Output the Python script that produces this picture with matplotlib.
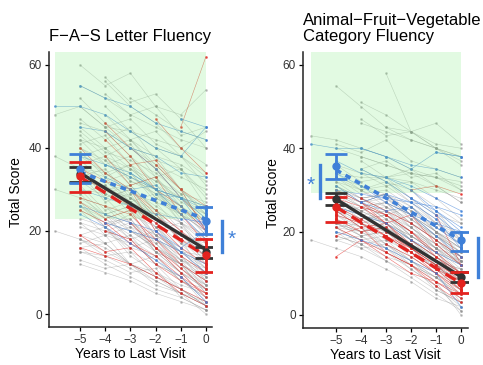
import numpy as np
import matplotlib.pyplot as plt
from matplotlib.patches import Rectangle

plt.rcParams['font.family'] = ['Liberation Sans', 'DejaVu Sans']

# individual trajectories: scores per yearly visit, last value is at year 0
fas_gray = [
    [30, 28, 24, 20, 17, 12, 8], [40, 36, 33, 30, 26, 22], [22, 20, 18, 14, 10, 6],
    [18, 15, 12, 10, 6, 2], [45, 40, 38, 30, 24], [55, 52, 48, 45, 42, 40],
    [28, 26, 20, 18, 14, 10], [35, 30, 22, 15], [60, 55, 58, 50, 48, 54],
    [50, 44, 42, 40, 36], [33, 30, 31, 25, 22, 19], [25, 20, 12],
    [12, 10, 8, 5, 3, 1], [26, 22, 16, 12, 5], [38, 34, 29, 27, 20, 16],
    [42, 36, 30, 24], [46, 44, 40, 36, 33, 30], [20, 18, 16, 12, 9, 5, 3],
    [32, 28, 22, 18, 13, 9], [20, 16, 14, 8, 4], [36, 38, 32, 30, 28, 24],
    [52, 48, 44, 42], [25, 22, 20, 16, 12, 7], [30, 24, 18],
    [42, 40, 35, 32, 28, 26], [32, 28, 24, 19, 14], [15, 14, 11, 8, 5, 0],
    [48, 50, 45, 44, 40, 38, 34], [20, 16, 10, 6], [30, 29, 26, 21, 16, 11],
    [18, 9], [44, 39, 37, 34, 29, 21], [38, 35, 30, 25, 21],
    [21, 19, 17, 13, 8, 4], [40, 35, 28], [52, 46, 42, 38, 36, 32],
    [24, 21, 18, 13, 10], [35, 33, 27, 24, 18, 13], [28, 25, 18, 12],
    [27, 24, 22, 19, 15, 14], [38, 35, 34, 30, 26, 22, 18], [56, 50, 46, 40, 44],
    [19, 17, 12, 9, 6, 2], [22, 14, 8], [34, 30, 28, 23, 19, 17],
    [33, 29, 26, 20], [23, 21, 15, 12, 9, 3], [30, 20],
    [29, 26, 22, 17, 11], [40, 37, 34, 28, 24, 20], [16, 12, 9, 6, 4, 1],
    [26, 23, 19, 15, 10, 4], [31, 27, 21, 14, 7], [24, 18, 12, 6, 2],
    [34, 27, 29, 20, 22, 13], [43, 38, 41, 33, 27, 24], [17, 19, 12, 14, 8, 6],
    [21, 16, 18, 11, 7], [37, 31, 33, 26, 19], [29, 31, 24, 21, 15, 12],
    [47, 42, 45, 37, 35, 29], [13, 11, 12, 7, 5, 2], [39, 33, 36, 30, 23, 18],
    [24, 26, 19, 15, 11], [57, 51, 53, 47, 40], [31, 25, 27, 19, 16, 8],
    [26, 22, 23, 15, 12, 9], [44, 38, 33, 35, 26], [19, 21, 14, 10, 7, 5],
    [36, 29, 31, 25, 17, 14], [23, 18, 20, 13, 6], [41, 43, 36, 32, 29, 27],
    [27, 21, 24, 17, 11, 6], [33, 35, 28, 23, 18, 15], [50, 45, 47, 41, 38, 31],
    [15, 13, 10, 11, 4, 1], [28, 30, 23, 19, 14], [37, 32, 34, 27, 24, 20],
    [22, 17, 19, 12, 9, 2], [45, 40, 42, 35, 30, 25], [32, 27, 29, 22, 17],
    [18, 14, 15, 9, 6, 3], [39, 34, 36, 28, 25, 19], [25, 19, 21, 15, 10, 7],
    [53, 48, 50, 43, 45], [30, 24, 26, 18, 15, 10], [20, 22, 15, 12, 8],
    [42, 36, 38, 31, 28, 23], [35, 28, 30, 23, 21, 16], [16, 17, 12, 8, 5, 2],
    [48, 42, 44, 38, 33], [26, 21, 23, 16, 13, 11], [38, 40, 32, 29, 24, 21],
    [29, 23, 25, 19, 12, 5],
]
fas_red = [
    [35, 32, 30, 25, 20, 15], [46, 40, 35, 28, 22], [16, 14, 12, 9, 6, 3],
    [30, 20, 14, 10], [28, 26, 24, 18, 12, 8], [36, 30, 20],
    [44, 38, 30, 26, 20], [33, 30, 26, 22, 16, 12], [45, 62],
    [22, 16, 10, 4], [40, 34, 30, 24, 18, 14], [20, 18, 12, 8, 5],
    [47, 40, 34], [25, 22, 17, 14, 9, 5], [38, 31, 33, 24, 17],
    [27, 23, 25, 16, 11, 6], [42, 36, 37, 30, 26], [19, 15, 16, 10, 5, 2],
]
fas_blue = [
    [50, 50, 48, 44, 40, 38, 45], [55, 52, 50, 46, 44, 42], [36, 34, 30, 28, 25],
    [38, 36, 33, 30, 28, 26], [40, 35, 28, 20], [30, 28, 26, 24, 23, 22],
    [20, 15, 10], [22, 20, 18, 15, 12], [45, 44, 40, 38, 34, 33],
    [47, 45], [34, 30, 24, 18], [26, 24, 22, 20, 16, 20], [29, 28, 23],
    [24, 21, 17, 13, 9, 3], [33, 30, 31, 26, 21],
]

afv_gray = [
    [28, 25, 22, 18, 14, 10], [24, 22, 18, 15, 11, 8], [46, 44, 42, 40, 38],
    [20, 18, 15, 12, 9, 5], [58, 44, 40, 38], [32, 30, 27, 24, 20, 16],
    [30, 26, 22, 18, 13], [26, 22, 20, 16, 12, 6], [18, 16, 14, 11, 8, 4, 2],
    [36, 34, 33, 32, 30, 28], [51, 48, 44, 46, 41], [22, 20, 17, 13, 10, 7],
    [28, 24, 18, 12], [30, 28, 25, 22, 18, 13], [22, 16, 10],
    [34, 33, 33, 34, 31, 27], [26, 22, 19, 15, 9], [25, 23, 20, 17, 13, 11],
    [40, 38, 36, 34, 33, 30], [24, 20, 15, 9], [29, 26, 24, 21, 16, 12],
    [35, 32, 30, 26, 22], [18, 16, 13, 10, 6, 3], [30, 24, 18],
    [27, 25, 22, 19, 16, 14], [22, 20, 16, 12, 7], [33, 31, 28, 25, 21, 18],
    [45, 42, 40, 36], [21, 20, 16, 13, 8, 4], [20, 12],
    [31, 28, 26, 23, 19, 15], [28, 25, 21, 17, 12], [24, 21, 19, 15, 11, 9],
    [43, 42, 40, 38, 35, 33, 31], [32, 28, 22, 17], [26, 24, 21, 18, 14, 10],
    [38, 36, 34, 33, 32], [23, 21, 17, 14, 10, 6], [26, 20, 14],
    [30, 27, 23, 20, 16, 11], [24, 22, 18, 14, 10], [55, 50, 45, 44, 41, 40],
    [27, 24, 19, 13], [19, 17, 14, 12, 8, 0], [25, 18],
    [31, 29, 26, 22, 19], [29, 27, 24, 20, 17, 14], [22, 19, 16, 11, 7, 1],
    [25, 21, 16, 12, 6, 3], [27, 23, 18, 12, 8], [21, 17, 13, 9, 5, 1],
    [26, 23, 24, 19, 15, 12], [31, 27, 29, 23, 18, 14], [22, 19, 20, 15, 12, 8],
    [28, 24, 26, 20, 15], [34, 30, 32, 27, 23, 19], [19, 17, 18, 13, 9, 6],
    [25, 21, 22, 17, 12, 10], [30, 26, 27, 22, 19, 15], [23, 20, 21, 16, 11, 7],
    [27, 29, 24, 20, 16], [33, 29, 30, 26, 21, 17], [21, 18, 19, 14, 10, 3],
    [29, 25, 27, 21, 16, 13], [24, 26, 21, 17, 14, 9], [36, 32, 33, 28, 24, 22],
    [20, 16, 17, 12, 9, 4], [32, 28, 29, 24, 20, 16], [26, 22, 24, 18, 13, 11],
    [28, 25, 26, 21, 17, 12], [23, 24, 19, 15, 10], [37, 33, 35, 31, 27],
    [25, 22, 23, 18, 14, 8], [31, 28, 29, 25, 20, 17], [18, 19, 15, 11, 7, 2],
    [27, 23, 25, 19, 15, 13], [29, 26, 27, 22, 18, 14], [22, 20, 21, 17, 13, 9],
    [34, 31, 32, 28, 23], [24, 20, 22, 16, 11, 6], [30, 27, 28, 23, 19, 16],
    [21, 22, 17, 13, 9, 5], [26, 24, 25, 20, 16, 12], [33, 30, 31, 27, 22, 18],
    [28, 29, 24, 19, 15], [23, 19, 20, 15, 12, 7], [47, 43, 44, 40, 37],
    [41, 39, 42, 37, 35, 33], [35, 37, 33, 34, 30],
]
afv_red = [
    [24, 22, 19, 16, 12, 9], [28, 25, 22, 18, 14], [14, 18, 14, 10, 8, 5],
    [20, 16, 12, 7], [26, 23, 19, 15, 11, 8], [30, 31, 29],
    [22, 19, 15, 11, 6], [30, 27, 24, 20, 15, 10], [17, 14, 10, 5],
    [21, 18, 15, 12, 8, 4], [24, 12], [26, 24, 20, 14, 10],
    [18, 14, 9], [28, 26, 22, 17, 13, 9], [23, 20, 21, 15, 10, 6],
    [27, 22, 24, 17, 12], [19, 21, 15, 12, 7, 3], [25, 21, 22, 16, 13, 8],
]
afv_blue = [
    [41, 40, 40, 38, 36, 35, 33], [37, 34, 33, 31, 28, 25], [40, 38, 35, 39, 38],
    [30, 29, 28, 27, 26, 24], [33, 30, 25, 20], [26, 24, 22, 18, 15, 12],
    [28, 24, 19], [35, 32, 28, 25, 21], [20, 18, 16, 13, 10, 2],
    [39, 38], [29, 27, 23, 16], [34, 31, 27, 24, 22, 20],
    [31, 27, 29, 24, 19, 14], [27, 25, 26, 21, 17],
]

# group summaries at years -5 and 0: mean, lower, upper
years = [-5, 0]
fas_all = [[33.7, 31.9, 35.5], [15.0, 13.5, 16.2]]
fas_dem = [[33.3, 29.3, 36.7], [14.2, 10.1, 18.1]]
fas_nodem = [[35.0, 31.6, 38.5], [22.5, 19.3, 25.8]]
afv_all = [[27.8, 26.4, 29.2], [9.2, 8.0, 10.4]]
afv_dem = [[25.9, 22.4, 28.4], [7.6, 5.2, 10.3]]
afv_nodem = [[35.8, 32.6, 38.6], [18.0, 15.4, 19.8]]

# fitted lines (value at -5, value at 0)
fas_fit = {'all': [34.0, 15.5], 'dem': [33.0, 14.0], 'nodem': [34.2, 22.8]}
afv_fit = {'all': [27.8, 9.2], 'dem': [25.9, 7.6], 'nodem': [34.8, 18.0]}

GRAY = '#8c8c8c'
RED = '#e3231f'
BLUE = '#3f80d8'
DARK = '#333333'


def draw_panel(ax, gray, red, blue, fits, summ, green_low, xlim):
    for trajs, col, a in [(gray, GRAY, 0.45), (red, RED, 0.65), (blue, BLUE, 0.7)]:
        for ys in trajs:
            xs = np.arange(-len(ys) + 1, 1)
            ax.plot(xs, ys, color=col, lw=0.4, alpha=a, marker='o', ms=1.0, zorder=1)
    ax.add_patch(Rectangle((-6, green_low), 6, 63 - green_low,
                           facecolor=(0.55, 0.93, 0.55), alpha=0.25, lw=0, zorder=2))
    ax.plot(years, fits['all'], color=DARK, lw=2.4, zorder=4)
    ax.plot(years, fits['dem'], color=RED, lw=2.4, ls=(0, (3.5, 2)), zorder=4)
    ax.plot(years, fits['nodem'], color=BLUE, lw=2.6, ls=(0, (1.6, 1.4)), zorder=4)
    for key, col in [('all', DARK), ('nodem', BLUE), ('dem', RED)]:
        s = np.array(summ[key])
        ax.errorbar(years, s[:, 0], yerr=[s[:, 0] - s[:, 1], s[:, 2] - s[:, 0]],
                    fmt='o', color=col, ms=5, lw=2, capsize=8, capthick=2, zorder=5)
    ax.set_xlim(*xlim)
    ax.set_ylim(-3.12, 63.1)
    ax.set_xticks([-5, -4, -3, -2, -1, 0])
    ax.set_yticks([0, 20, 40, 60])
    for sp in ['top', 'right']:
        ax.spines[sp].set_visible(False)
    for sp in ['left', 'bottom']:
        ax.spines[sp].set_linewidth(1.1)
        ax.spines[sp].set_color('#222222')
    ax.tick_params(length=3, width=0.9, labelsize=8.5, labelcolor='#333333', pad=2)
    ax.set_xlabel('Years to Last Visit', fontsize=10, labelpad=1)
    ax.set_ylabel('Total Score', fontsize=10)


fig = plt.figure(figsize=(4.83, 3.65), dpi=100)
ax1 = fig.add_axes([49 / 483, 38 / 365, 163 / 483, 275 / 365])
ax2 = fig.add_axes([303 / 483, 37 / 365, 165 / 483, 276 / 365])

draw_panel(ax1, fas_gray, fas_red, fas_blue, fas_fit,
           {'all': fas_all, 'dem': fas_dem, 'nodem': fas_nodem}, 22.8, (-6.23, 0.24))
draw_panel(ax2, afv_gray, afv_red, afv_blue, afv_fit,
           {'all': afv_all, 'dem': afv_dem, 'nodem': afv_nodem}, 29.3, (-6.32, 0.28))
ax1.yaxis.set_label_coords(-0.16, 0.49)
ax2.yaxis.set_label_coords(-0.14, 0.49)

ax1.set_title('F\u2212A\u2212S Letter Fluency', loc='left', fontsize=12, pad=8)
ax2.set_title('Animal\u2212Fruit\u2212Vegetable\nCategory Fluency', loc='left',
              fontsize=12, pad=8, linespacing=1.1)

# significance markers
ax1.plot([0.63, 0.63], [14.9, 22.4], color=BLUE, lw=2.4, clip_on=False)
ax1.text(1.03, 18.0, '*', color=BLUE, fontsize=15, ha='center', va='center', clip_on=False)
ax2.plot([-5.64, -5.64], [28.0, 36.0], color=BLUE, lw=2.4, clip_on=False)
ax2.text(-6.02, 31.0, '*', color=BLUE, fontsize=15, ha='center', va='center', clip_on=False)
ax2.plot([0.68, 0.68], [9.1, 18.5], color=BLUE, lw=2.4, clip_on=False)

fig.savefig('out.png', dpi=100)
